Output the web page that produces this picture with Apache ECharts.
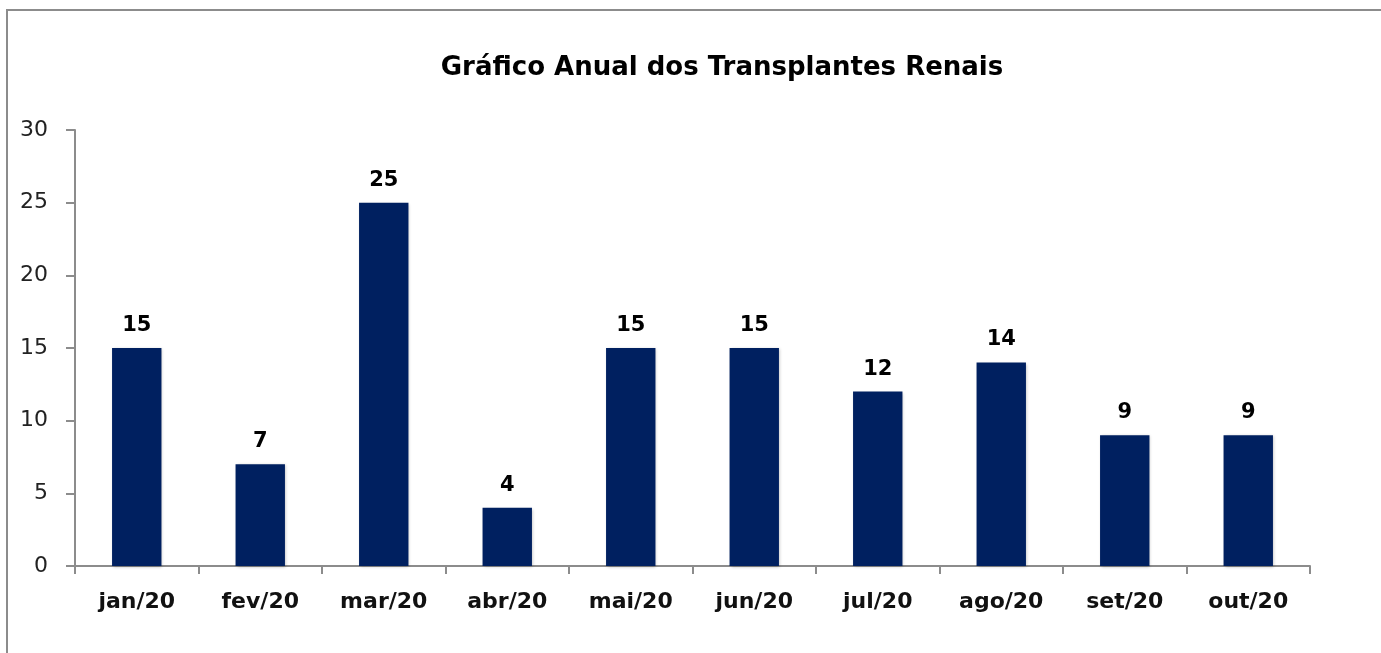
<!DOCTYPE html>
<html><head><meta charset="utf-8">
<script src="https://cdn.jsdelivr.net/npm/echarts@6/dist/echarts.min.js"></script>
<style>html,body{margin:0;padding:0;background:#fff}#c{width:1381px;height:653px}</style>
</head><body><div id="c"></div>
<script>
const categories = ['jan/20','fev/20','mar/20','abr/20','mai/20','jun/20','jul/20','ago/20','set/20','out/20'];
const values = [15, 7, 25, 4, 15, 15, 12, 14, 9, 9];
const yTicks = [0, 5, 10, 15, 20, 25, 30];
const chart = echarts.init(document.getElementById('c'));
const axisColor = '#8c8c8c';
const font = 'DejaVu Sans';
chart.setOption({
  animation: false,
  backgroundColor: '#fff',
  title: {
    text: 'Gráfico Anual dos Transplantes Renais',
    left: 717, top: 50, textAlign: 'center',
    textStyle: { fontFamily: font, fontWeight: 'bold', fontSize: 26, color: '#000' }
  },
  graphic: [{
    type: 'rect', shape: { x: 7, y: 10, width: 1500, height: 800 },
    style: { fill: 'none', stroke: '#8c8c8c', lineWidth: 2 }, silent: true, z: -1
  }],
  grid: { left: 75, right: 71, top: 130, bottom: 87 },
  xAxis: {
    type: 'category', data: categories,
    axisLine: { lineStyle: { color: axisColor, width: 2 } },
    axisTick: { show: true, length: 8, lineStyle: { color: axisColor, width: 2 } },
    axisLabel: { margin: 25, fontFamily: font, fontWeight: 'bold', fontSize: 22, color: '#111' }
  },
  yAxis: {
    type: 'value', min: 0, max: 30, interval: 5,
    axisLine: { show: true, lineStyle: { color: axisColor, width: 2 } },
    axisTick: { show: true, length: 9, inside: false, lineStyle: { color: axisColor, width: 2 } },
    splitLine: { show: false },
    axisLabel: { margin: 27, fontFamily: font, fontSize: 22, color: '#222',
      formatter: v => yTicks.includes(v) ? String(v) : '' }
  },
  series: [{
    type: 'bar', data: values, barWidth: '40%',
    itemStyle: { color: '#002060', shadowColor: 'rgba(0,0,0,0.25)', shadowBlur: 3, shadowOffsetX: 1, shadowOffsetY: 1 },
    label: { show: true, position: 'top', distance: 12, fontFamily: font, fontWeight: 'bold', fontSize: 21, color: '#000' }
  }]
});
</script></body></html>
